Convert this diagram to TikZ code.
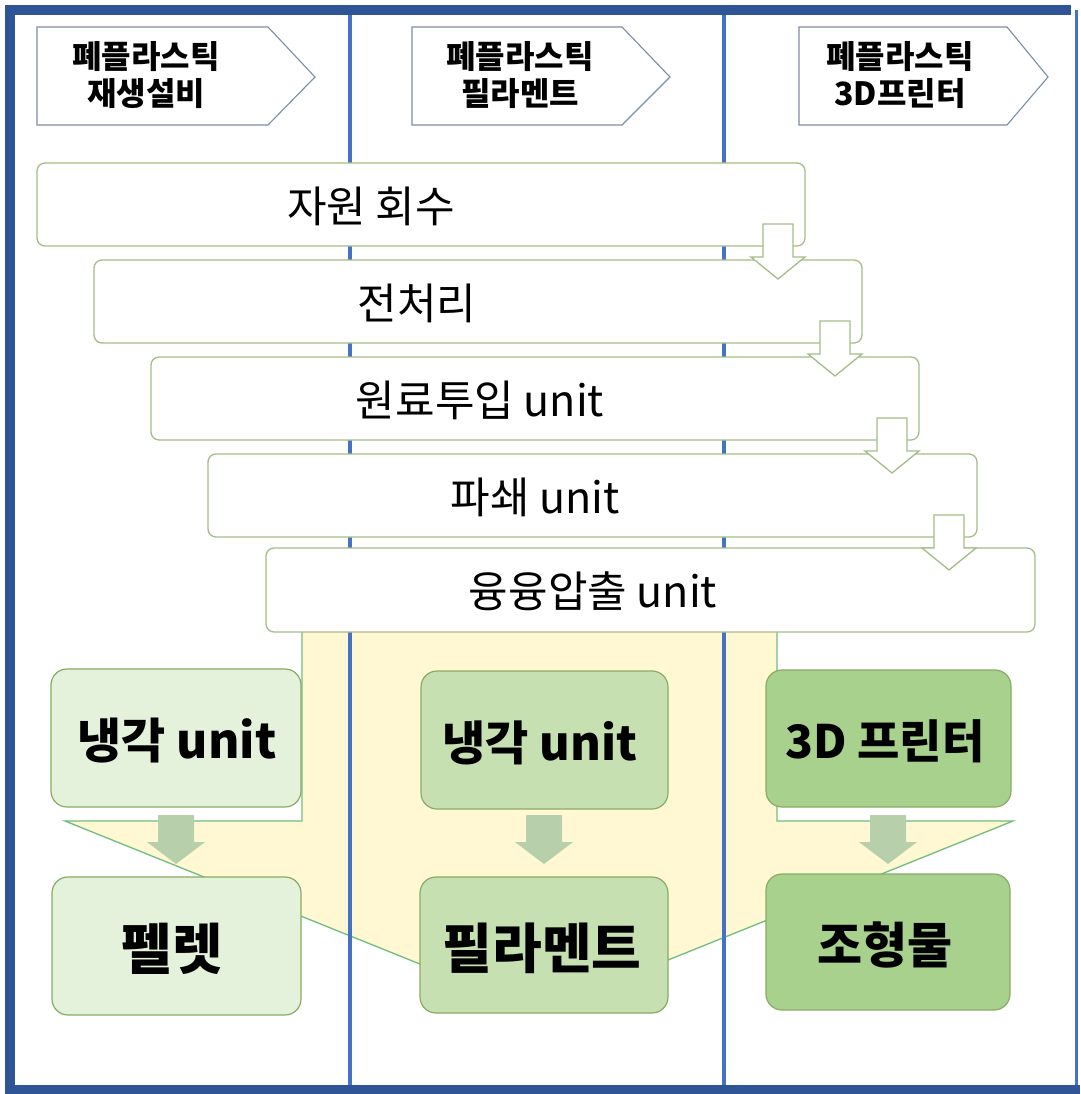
\documentclass[tikz,border=0pt]{standalone}
\usepackage{fontspec}
\setmainfont{Noto Sans CJK KR}
\definecolor{frameblue}{RGB}{47,85,151}
\definecolor{divblue}{RGB}{68,114,196}
\definecolor{stepline}{RGB}{165,188,135}
\definecolor{yel}{RGB}{255,248,210}
\definecolor{yelline}{RGB}{112,190,125}
\definecolor{gA}{RGB}{229,242,219}
\definecolor{gB}{RGB}{199,224,178}
\definecolor{gC}{RGB}{169,209,142}
\definecolor{gline}{RGB}{135,172,100}
\definecolor{garrow}{RGB}{183,207,170}
\definecolor{hdrline}{RGB}{125,140,165}
\tikzset{
  stepbox/.style={draw=stepline, line width=1.3pt, fill=white, rounded corners=8pt, inner sep=0pt, outer sep=0pt},
  steptext/.style={font=\fontsize{43}{48}\selectfont, inner sep=0pt},
  outarrow/.style={draw=stepline, line width=1.3pt, fill=white, line join=miter},
  resbox/.style={draw=gline, line width=1.2pt, rounded corners=16pt, inner sep=0pt, outer sep=0pt},
  restext/.style={font=\bfseries\fontsize{#1}{#1}\selectfont, inner sep=0pt},
  hdr/.style={draw=hdrline, line width=1.1pt, fill=white},
  hdrtext/.style={font=\bfseries\fontsize{32}{37}\selectfont, align=center, inner sep=0pt},
  grarrow/.style={fill=garrow, draw=none}
}
\begin{document}
\begin{tikzpicture}[x=1pt,y=-1pt]
\useasboundingbox (0,0) rectangle (1080,1094);
\fill[white] (0,0) rectangle (1080,1094);
% big yellow arrow
\filldraw[fill=yel, draw=yelline, line width=1.3pt, line join=miter]
  (302,620) -- (302,821) -- (65,821) -- (539,1012) -- (1013,821) -- (777,821) -- (777,620);
% column dividers
\draw[divblue, line width=3.5pt] (350,10) -- (350,1090);
\draw[divblue, line width=3.5pt] (724,10) -- (724,1090);
% step boxes
\node[stepbox, minimum width=768pt, minimum height=83pt] (s1) at (421,204.5) {};
\node[steptext] (t1) at (371,206) {자원 회수};
\node[stepbox, minimum width=768pt, minimum height=83pt] (s2) at (478,301.5) {};
\node[steptext] (t2) at (417,303) {전처리};
\node[stepbox, minimum width=768pt, minimum height=83pt] (s3) at (535,398.5) {};
\node[steptext] (t3) at (480,400) {원료투입 unit};
\node[stepbox, minimum width=769pt, minimum height=83pt] (s4) at (592.5,495.5) {};
\node[steptext] (t4) at (535,497) {파쇄 unit};
\node[stepbox, minimum width=769pt, minimum height=84pt] (s5) at (650.5,590) {};
\node[steptext] (t5) at (593,591) {융융압출 unit};
% outline arrows between steps
\foreach \x/\y in {778/224, 835/321, 892/418, 949/515}{
  \draw[outarrow] (\x-15,\y) -- (\x+15,\y) -- (\x+15,\y+33) -- (\x+27,\y+33)
     -- (\x,\y+55) -- (\x-27,\y+33) -- (\x-15,\y+33) -- cycle;
}
% result boxes
\node[resbox, fill=gA, minimum width=250pt, minimum height=138pt] (c1) at (176,738) {};
\node[restext=48] (c1t) at (177,741) {냉각 unit};
\node[resbox, fill=gB, minimum width=247pt, minimum height=138pt] (c2) at (544.5,740) {};
\node[restext=47] (c2t) at (540,743) {냉각 unit};
\node[resbox, fill=gC, minimum width=245pt, minimum height=137pt] (c3) at (888.5,738.5) {};
\node[restext=46] (c3t) at (885,741) {3D 프린터};
\node[resbox, fill=gA, minimum width=249pt, minimum height=138pt] (p1) at (176.5,946) {};
\node[restext=55] (p1t) at (172,949) {펠렛};
\node[resbox, fill=gB, minimum width=248pt, minimum height=136pt] (p2) at (544,945) {};
\node[restext=54] (p2t) at (542,948) {필라멘트};
\node[resbox, fill=gC, minimum width=244pt, minimum height=136pt] (p3) at (888,942) {};
\node[restext=49] (p3t) at (885,945) {조형물};
% grey-green arrows
\foreach \x in {176, 544, 888}{
  \fill[grarrow] (\x-18,815) -- (\x+18,815) -- (\x+18,842) -- (\x+29,842)
     -- (\x,864) -- (\x-29,842) -- (\x-18,842) -- cycle;
}
% headers
\draw[hdr] (37,27) -- (268,27) -- (315,77) -- (268,125) -- (37,125) -- cycle;
\node[hdrtext] (h1) at (146,75) {폐플라스틱\\재생설비};
\draw[hdr] (412,27) -- (622,27) -- (670,77) -- (622,125) -- (412,125) -- cycle;
\node[hdrtext] (h2) at (520,75) {폐플라스틱\\필라멘트};
\draw[hdr] (799,27) -- (1007,27) -- (1048,77) -- (1007,125) -- (799,125) -- cycle;
\node[hdrtext] (h3) at (900,75) {폐플라스틱\\3D프린터};
% frame
\draw[divblue, line width=3pt] (1076,10) -- (1076,1090);
\draw[frameblue, line width=10pt] (1071,10) -- (10,10) -- (10,1090) -- (1080,1090);
\end{tikzpicture}
\end{document}
